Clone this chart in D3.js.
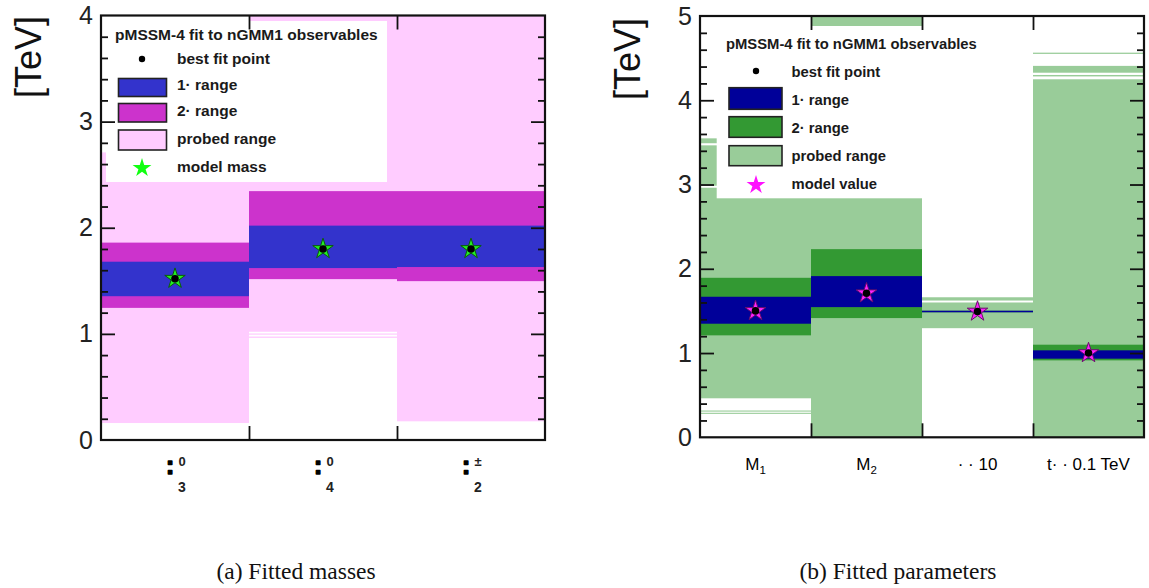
<!DOCTYPE html>
<html>
<head>
<meta charset="utf-8">
<script src="https://cdn.jsdelivr.net/npm/d3@7"></script>
<style>
  html, body { margin: 0; padding: 0; background: #fff; }
  svg { display: block; }
</style>
</head>
<body>
<svg id="fig" width="1149" height="588" font-family="Liberation Sans, Arial, sans-serif"></svg>
<script>
// ---- (a) fitted masses ----
const massSymbols = [":", ":", ":"];
const massSup = ["0", "0", "\u00b1"];
const massSub = ["3", "4", "2"];
const massBest = [1.52, 1.80, 1.80];
const massModel = [1.52, 1.80, 1.80];
const massSigma1 = [[1.355, 1.68], [1.62, 2.02], [1.63, 2.02]];
const massSigma2 = [[1.245, 1.86], [1.516, 2.345], [1.497, 2.345]];
// probed ranges: list of [low, high] segments per column
const massProbed = [
  [[0.16, 2.71]],
  [[1.02, 4.0], [0.992, 1.004], [0.962, 0.975]],
  [[0.176, 4.0]]
];
const massTicks = [0, 1, 2, 3, 4];

// ---- (b) fitted parameters ----
const paramLabels = ["M", "M", "\u00b7 \u00b7 10", "t\u00b7 \u00b7 0.1 TeV"];
const paramSub = ["1", "2", "", ""];
const paramBest = [1.50, 1.71, 1.493, 1.00];
const paramModel = [1.50, 1.71, 1.493, 1.00];
const paramSigma1 = [[1.348, 1.668], [1.545, 1.913], [1.484, 1.502], [0.933, 1.032]];
const paramSigma2 = [[1.21, 1.893], [1.415, 2.233], [1.484, 1.502], [0.913, 1.099]];
const paramProbed = [
  [[0.463, 2.962], [2.986, 3.465], [3.49, 3.548], [0.278, 0.291], [0.305, 0.318]],
  [[0, 5]],
  [[1.295, 1.60], [1.623, 1.662]],
  [[0, 4.249], [4.283, 4.30], [4.327, 4.408], [4.55, 4.565]]
];
const paramTicks = [0, 1, 2, 3, 4, 5];

const legendTitle = "pMSSM-4 fit to nGMM1 observables";
const legendEntries = ["best fit point", "1\u00b7 range", "2\u00b7 range", "probed range"];

const svg = d3.select("#fig");

function drawPanel(cfg) {
  const g = svg.append("g");
  const n = cfg.n;
  const x = d3.scaleBand().domain(d3.range(n)).range([cfg.x0, cfg.x1]).padding(0);
  const xb = d3.scaleLinear().domain([0, n]).range([cfg.x0, cfg.x1]);
  const y = d3.scaleLinear().domain([0, cfg.ymax]).range([cfg.yBot, cfg.yTop]);

  const clipId = "clip" + cfg.id;
  svg.append("clipPath").attr("id", clipId).append("rect")
    .attr("x", cfg.x0).attr("y", cfg.yTop)
    .attr("width", cfg.x1 - cfg.x0).attr("height", cfg.yBot - cfg.yTop);

  const area = g.append("g").attr("clip-path", `url(#${clipId})`);

  // probed range segments
  cfg.probed.forEach((segs, i) => {
    area.selectAll(null).data(segs).enter().append("rect")
      .attr("x", x(i)).attr("width", x.bandwidth())
      .attr("y", d => y(d[1])).attr("height", d => y(d[0]) - y(d[1]))
      .attr("fill", cfg.colors.probed);
  });
  // 2 sigma
  area.selectAll(null).data(cfg.sigma2).enter().append("rect")
    .attr("x", (d, i) => x(i)).attr("width", x.bandwidth())
    .attr("y", d => y(d[1])).attr("height", d => Math.max(1, y(d[0]) - y(d[1])))
    .attr("fill", cfg.colors.s2);
  // 1 sigma
  area.selectAll(null).data(cfg.sigma1).enter().append("rect")
    .attr("x", (d, i) => x(i)).attr("width", x.bandwidth())
    .attr("y", d => y(d[1])).attr("height", d => Math.max(1.5, y(d[0]) - y(d[1])))
    .attr("fill", cfg.colors.s1);

  // legend box
  const L = cfg.legend;
  const lg = g.append("g");
  lg.append("rect").attr("x", L.x).attr("y", L.y).attr("width", L.w).attr("height", L.h).attr("fill", "#fff");
  lg.append("text").attr("x", L.titleX).attr("y", L.titleY).attr("dy", "0.35em")
    .attr("font-size", L.fs).attr("font-weight", "bold").attr("fill", "#1a1a1a").text(legendTitle);
  const sw = [cfg.colors.s1, cfg.colors.s2, cfg.colors.probed];
  L.rows.forEach((ry, k) => {
    lg.append("text").attr("x", L.textX).attr("y", ry).attr("dy", "0.35em")
      .attr("font-size", L.fs).attr("font-weight", "bold").attr("fill", "#1a1a1a")
      .text(k < 4 ? legendEntries[k] : cfg.modelName);
  });
  lg.append("circle").attr("cx", L.markX).attr("cy", L.dotY).attr("r", 3.2).attr("fill", "#000");
  L.swatches.forEach((s, k) => {
    lg.append("rect").attr("x", L.swX0).attr("y", s[0]).attr("width", L.swX1 - L.swX0).attr("height", s[1] - s[0])
      .attr("fill", sw[k]).attr("stroke", "#222").attr("stroke-width", 1.6);
  });
  lg.append("path").attr("d", d3.symbol().type(d3.symbolStar).size(110)())
    .attr("transform", `translate(${L.markX},${L.starY})`).attr("fill", cfg.colors.starLegend);

  // model stars and best-fit points
  const star = d3.symbol().type(d3.symbolStar).size(130);
  g.selectAll(null).data(cfg.model).enter().append("path")
    .attr("d", star())
    .attr("transform", (d, i) => `translate(${x(i) + x.bandwidth() / 2},${y(d)})`)
    .attr("fill", cfg.colors.star).attr("stroke", cfg.colors.starEdge).attr("stroke-width", 1);
  g.selectAll(null).data(cfg.best).enter().append("circle")
    .attr("cx", (d, i) => x(i) + x.bandwidth() / 2).attr("cy", d => y(d))
    .attr("r", 3.8).attr("fill", "#000");

  // axes: inward ticks on all four sides
  const minor = d3.range(0, cfg.ymax + 1e-9, 0.2).filter(v => Math.abs(v - Math.round(v)) > 1e-6);
  const major = cfg.ticks.filter(v => v > 0 && v < cfg.ymax);
  const axStyle = sel => {
    sel.select(".domain").remove();
    sel.selectAll("line").attr("stroke", "#111").attr("stroke-width", 1.8);
    sel.selectAll("text").remove();
  };
  g.append("g").attr("transform", `translate(${cfg.x0},0)`)
    .call(d3.axisRight(y).tickValues(major).tickSize(14)).call(axStyle);
  g.append("g").attr("transform", `translate(${cfg.x0},0)`)
    .call(d3.axisRight(y).tickValues(minor).tickSize(7)).call(axStyle);
  g.append("g").attr("transform", `translate(${cfg.x1},0)`)
    .call(d3.axisLeft(y).tickValues(major).tickSize(14)).call(axStyle);
  g.append("g").attr("transform", `translate(${cfg.x1},0)`)
    .call(d3.axisLeft(y).tickValues(minor).tickSize(7)).call(axStyle);
  const bounds = d3.range(1, n);
  g.append("g").attr("transform", `translate(0,${cfg.yBot})`)
    .call(d3.axisTop(xb).tickValues(bounds).tickSize(14)).call(axStyle);
  g.append("g").attr("transform", `translate(0,${cfg.yTop})`)
    .call(d3.axisBottom(xb).tickValues(bounds).tickSize(14)).call(axStyle);

  // tick labels
  const lab = g.append("g").attr("transform", `translate(${cfg.x0 - 8},0)`)
    .call(d3.axisLeft(y).tickValues(cfg.ticks).tickSize(0).tickPadding(0).tickFormat(d3.format("d")));
  lab.select(".domain").remove();
  lab.attr("font-family", null).attr("font-size", null);
  lab.selectAll("text").attr("font-size", 25).attr("fill", "#222");

  // frame
  g.append("rect").attr("x", cfg.x0).attr("y", cfg.yTop)
    .attr("width", cfg.x1 - cfg.x0).attr("height", cfg.yBot - cfg.yTop)
    .attr("fill", "none").attr("stroke", "#111").attr("stroke-width", 2.2);

  // unit label
  g.append("text").attr("transform", `translate(${cfg.unitX},${cfg.unitY}) rotate(-90)`)
    .attr("text-anchor", "middle").attr("dy", "0.35em")
    .attr("font-size", 36).attr("fill", "#111").text("[TeV]");

  // caption
  g.append("text").attr("x", cfg.capX).attr("y", 579).attr("text-anchor", "middle")
    .attr("font-family", "Liberation Serif, Times New Roman, serif")
    .attr("font-size", 23.5).attr("fill", "#111").text(cfg.caption);

  return { g, x };
}

// panel (a)
const pa = drawPanel({
  id: "a", n: 3, x0: 101, x1: 545, yTop: 15.5, yBot: 440, ymax: 4,
  ticks: massTicks, probed: massProbed, sigma1: massSigma1, sigma2: massSigma2,
  best: massBest, model: massModel, modelName: "model mass",
  colors: { probed: "#ffccff", s2: "#cc33cc", s1: "#3333cc", star: "#22ee22", starEdge: "#0a5a0a", starLegend: "#11ff11" },
  legend: { x: 106, y: 21, w: 281, h: 161, fs: 15.5, titleX: 115, titleY: 34.5,
    textX: 177, rows: [58.5, 84.5, 111, 138.5, 167], markX: 142, dotY: 59, starY: 168,
    swX0: 118.5, swX1: 166.5, swatches: [[78.5, 96.5], [103.5, 122], [130, 150]] },
  unitX: 28, unitY: 57, capX: 296, caption: "(a) Fitted masses"
});
pa.g.selectAll(null).data(massSymbols).enter().append("text")
  .attr("x", (d, i) => pa.x(i) + pa.x.bandwidth() / 2 - 5).attr("y", 473.5)
  .attr("text-anchor", "middle").attr("font-size", 26).attr("font-weight", "bold")
  .attr("fill", "#000").attr("stroke", "#000").attr("stroke-width", 1.3)
  .attr("stroke-linejoin", "round").text(d => d);
pa.g.selectAll(null).data(massSup).enter().append("text")
  .attr("x", (d, i) => pa.x(i) + pa.x.bandwidth() / 2 + 7).attr("y", 461).attr("dy", "0.35em")
  .attr("text-anchor", "middle").attr("font-size", 13).attr("font-weight", "bold").attr("fill", "#222").text(d => d);
pa.g.selectAll(null).data(massSub).enter().append("text")
  .attr("x", (d, i) => pa.x(i) + pa.x.bandwidth() / 2 + 7).attr("y", 487).attr("dy", "0.35em")
  .attr("text-anchor", "middle").attr("font-size", 14).attr("font-weight", "bold").attr("fill", "#222").text(d => d);

// panel (b)
const pb = drawPanel({
  id: "b", n: 4, x0: 700, x1: 1144, yTop: 16, yBot: 437.3, ymax: 5,
  ticks: paramTicks, probed: paramProbed, sigma1: paramSigma1, sigma2: paramSigma2,
  best: paramBest, model: paramModel, modelName: "model value",
  colors: { probed: "#99cc99", s2: "#339933", s1: "#000099", star: "#ff22ff", starEdge: "#6a106a", starLegend: "#ff11ff" },
  legend: { x: 716.7, y: 26, w: 316, h: 172.3, fs: 14.8, titleX: 726, titleY: 43.5,
    textX: 791.5, rows: [71.7, 100, 127.7, 156, 184.3], markX: 756, dotY: 71, starY: 185,
    swX0: 729, swX1: 782, swatches: [[87.7, 109.3], [116.7, 137.3], [145.7, 165.7]] },
  unitX: 627, unitY: 59, capX: 898, caption: "(b) Fitted parameters"
});
const pl = pb.g.selectAll(null).data(paramLabels).enter().append("text")
  .attr("x", (d, i) => pb.x(i) + pb.x.bandwidth() / 2).attr("y", 470)
  .attr("text-anchor", "middle").attr("font-size", 17).attr("fill", "#000");
pl.append("tspan").text(d => d);
pl.append("tspan").attr("font-size", 11.5).attr("dy", 4).text((d, i) => paramSub[i]);
</script>
</body>
</html>
